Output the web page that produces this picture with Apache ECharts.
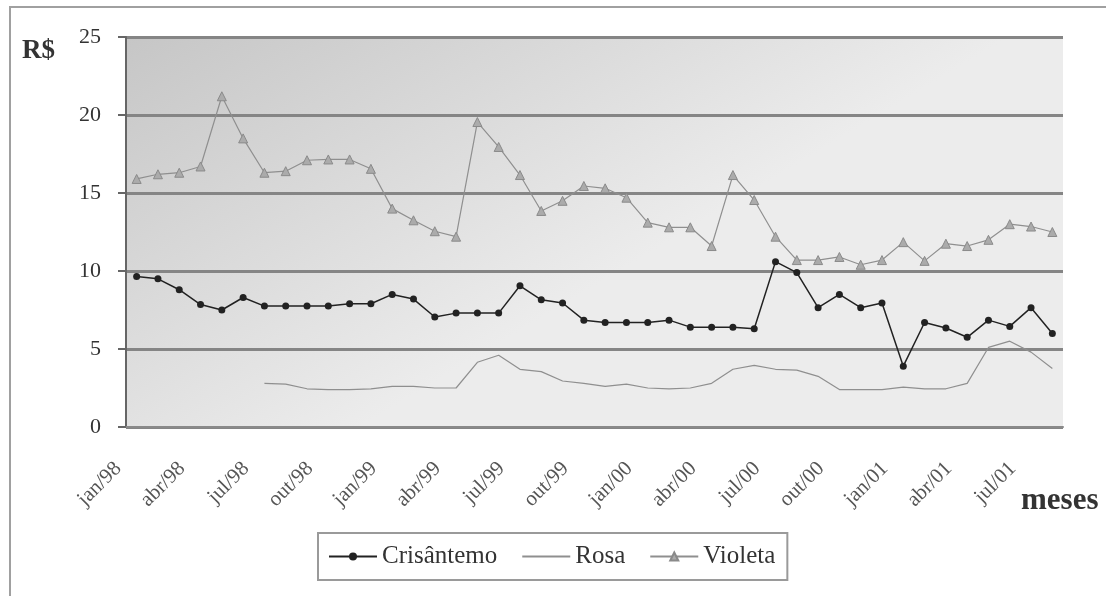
<!DOCTYPE html>
<html>
<head>
<meta charset="utf-8">
<script src="https://cdn.jsdelivr.net/npm/echarts@6/dist/echarts.min.js"></script>
<style>
  html, body { margin: 0; padding: 0; background: #fff; }
  #chart { width: 1106px; height: 596px; }
</style>
</head>
<body>
<div id="chart"></div>
<script>
// month labels jan/98 .. ago/01
const monthNames = ['jan', 'fev', 'mar', 'abr', 'mai', 'jun', 'jul', 'ago', 'set', 'out', 'nov', 'dez'];
const years = ['98', '99', '00', '01'];
const months = [];
years.forEach(function (y) {
  monthNames.forEach(function (m) {
    if (months.length < 44) months.push(m + '/' + y);
  });
});

const crisantemo = [
  9.65, 9.5, 8.8, 7.85, 7.5, 8.3, 7.75, 7.75, 7.75, 7.75, 7.9, 7.9,
  8.5, 8.2, 7.05, 7.3, 7.3, 7.3, 9.05, 8.15, 7.95, 6.85, 6.7, 6.7,
  6.7, 6.85, 6.4, 6.4, 6.4, 6.3, 10.6, 9.9, 7.65, 8.5, 7.65, 7.95,
  3.9, 6.7, 6.35, 5.75, 6.85, 6.45, 7.65, 6.0
];
const rosa = [
  null, null, null, null, null, null, 2.8, 2.75, 2.45, 2.4, 2.4, 2.45,
  2.6, 2.6, 2.5, 2.5, 4.15, 4.6, 3.7, 3.55, 2.95, 2.8, 2.6, 2.75,
  2.5, 2.45, 2.5, 2.8, 3.7, 3.95, 3.7, 3.65, 3.25, 2.4, 2.4, 2.4,
  2.55, 2.45, 2.45, 2.8, 5.1, 5.5, 4.8, 3.75
];
const violeta = [
  15.9, 16.2, 16.3, 16.7, 21.2, 18.5, 16.3, 16.4, 17.1, 17.15, 17.15, 16.55,
  14.0, 13.25, 12.55, 12.2, 19.55, 17.95, 16.15, 13.85, 14.5, 15.45, 15.3, 14.7,
  13.1, 12.8, 12.8, 11.6, 16.15, 14.55, 12.2, 10.7, 10.7, 10.9, 10.4, 10.7,
  11.85, 10.65, 11.75, 11.6, 12.0, 13.0, 12.85, 12.5
];

const serif = "'Liberation Serif', 'DejaVu Serif', serif";

const chart = echarts.init(document.getElementById('chart'));
chart.setOption({
  backgroundColor: '#fff',
  animation: false,
  textStyle: { fontFamily: serif },
  graphic: [
    {
      type: 'rect',
      shape: { x: 10, y: 7, width: 1200, height: 700 },
      style: { fill: 'none', stroke: '#a0a0a0', lineWidth: 2 }
    },
    {
      type: 'text', left: 22, top: 38,
      style: { text: 'R$', font: 'bold 27px ' + serif, fill: '#333' }
    },
    {
      type: 'text', left: 1021, top: 485,
      style: { text: 'meses', font: 'bold 31px ' + serif, fill: '#333' }
    }
  ],
  grid: {
    left: 126, right: 43, top: 37, bottom: 169,
    show: true,
    borderWidth: 0,
    backgroundColor: new echarts.graphic.LinearGradient(0, 0, 0.25, 1, [
      { offset: 0, color: '#c6c6c6' },
      { offset: 1, color: '#ececec' }
    ])
  },
  legend: {
    left: 318, top: 533,
    itemWidth: 48, itemHeight: 10, itemGap: 24,
    padding: [11, 12, 11, 10],
    borderColor: '#9a9a9a', borderWidth: 2,
    textStyle: { fontFamily: serif, fontSize: 25, color: '#333' },
    data: [
      'Crisântemo',
      { name: 'Rosa', itemStyle: { color: 'rgba(0,0,0,0)', borderColor: 'rgba(0,0,0,0)' } },
      'Violeta'
    ]
  },
  xAxis: {
    type: 'category',
    data: months,
    boundaryGap: true,
    axisLine: { lineStyle: { color: '#8a8a8a', width: 2 } },
    axisTick: { interval: 2, length: 8, lineStyle: { color: '#666', width: 2 } },
    axisLabel: {
      interval: 2, rotate: 45, margin: 20,
      padding: [0, 26, 0, 0],
      fontFamily: serif, fontSize: 21, color: '#555'
    },
    splitLine: { show: false }
  },
  yAxis: {
    type: 'value',
    min: 0, max: 25, interval: 5,
    axisLine: { show: true, lineStyle: { color: '#666', width: 2 } },
    axisTick: { show: true, length: 8, lineStyle: { color: '#666', width: 2 } },
    axisLabel: { margin: 25, fontFamily: serif, fontSize: 22, color: '#333' },
    splitLine: { lineStyle: { color: '#858585', width: 3 } }
  },
  series: [
    {
      name: 'Crisântemo', type: 'line', data: crisantemo,
      symbol: 'circle', symbolSize: 7,
      lineStyle: { color: '#222', width: 1.5 },
      itemStyle: { color: '#222' }
    },
    {
      name: 'Rosa', type: 'line', data: rosa,
      symbol: 'none',
      lineStyle: { color: '#8f8f8f', width: 1.2 },
      itemStyle: { color: '#8f8f8f' }
    },
    {
      name: 'Violeta', type: 'line', data: violeta,
      symbol: 'triangle', symbolSize: 9,
      lineStyle: { color: '#8f8f8f', width: 1.2 },
      itemStyle: { color: '#ababab', borderColor: '#8a8a8a', borderWidth: 1 }
    }
  ]
});
</script>
</body>
</html>
